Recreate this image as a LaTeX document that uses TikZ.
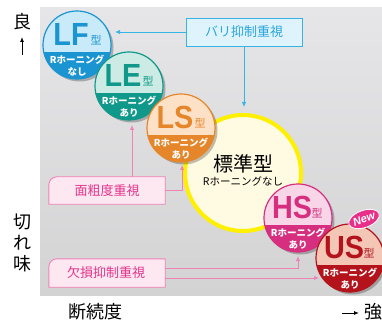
\documentclass[tikz,border=0pt]{standalone}
\usepackage{fontspec}
\setmainfont{Liberation Sans}
\newfontfamily\jp{Noto Sans CJK JP}
\newfontfamily\lat{Liberation Sans}
\usetikzlibrary{arrows.meta,shapes.geometric}
\definecolor{bgtop}{HTML}{E6E6E8}
\definecolor{bgbot}{HTML}{D3D3D4}
\definecolor{lfL}{HTML}{C9EAF8}\definecolor{lfD}{HTML}{1B95D1}
\definecolor{leL}{HTML}{CBEBE4}\definecolor{leD}{HTML}{10998A}
\definecolor{lsL}{HTML}{FDE1C6}\definecolor{lsD}{HTML}{E6862A}
\definecolor{hsL}{HTML}{F9D5E8}\definecolor{hsD}{HTML}{D62F80}
\definecolor{usL}{HTML}{F3C6B6}\definecolor{usD}{HTML}{B5131C}
\definecolor{stdF}{HTML}{FFFBE2}\definecolor{stdY}{HTML}{FFEF00}
\definecolor{bluL}{HTML}{36B4E6}\definecolor{bluF}{HTML}{DFF3FC}\definecolor{bluT}{HTML}{2BA6DD}
\definecolor{pnkL}{HTML}{EF83B6}\definecolor{pnkF}{HTML}{FDE7F1}\definecolor{pnkT}{HTML}{E2368C}
\definecolor{newP}{HTML}{E8308A}
\tikzset{
  typec/.style={circle, minimum size=68pt, inner sep=0pt, line width=1.2pt},
  letters/.style={font=\lat\bfseries\fontsize{32}{32}\selectfont, inner sep=0pt},
  kata/.style={font=\jp\fontsize{11}{11}\selectfont, inner sep=0pt},
  sub/.style={font=\jp\bfseries\fontsize{9.5}{9.5}\selectfont, text=white, inner sep=0pt},
  axislbl/.style={font=\jp\fontsize{18}{21}\selectfont, inner sep=0pt, align=center},
  boxlbl/.style={font=\jp\fontsize{13}{13}\selectfont, inner sep=0pt},
  bluline/.style={draw=bluL, line width=0.9pt},
  pnkline/.style={draw=pnkL, line width=0.9pt},
  tip/.style={-{Latex[length=5pt,width=4.5pt]}},
}
\newcommand\tcirc[8]{%
  \fill[black, opacity=0.25] (#2+2.5,#3+2.5) circle[radius=34pt];
  \node[typec, draw=#5, fill=#4, path picture={\fill[#5] ([yshift=-7pt]path picture bounding box.center) ++(-40pt,0pt) rectangle ++(80pt,-40pt);}] (#1) at (#2,#3) {};
  \node[letters, text=#5] (#1t) at (#2-6,#3-11) {\scalebox{0.9}[1]{#6}};
  \node[kata, text=#5] (#1k) at (#2+19,#3-5) {型};
  \node[sub] (#1a) at (#2,#3+15) {#7};
  \node[sub] (#1b) at (#2,#3+27) {#8};
}
\begin{document}
\begin{tikzpicture}[x=1pt,y=-1pt]
\useasboundingbox (0,0) rectangle (382,320);
\shade[top color=bgtop, bottom color=bgbot] (40,8) rectangle (382,295);
% axis labels
\node[axislbl] (good) at (22,22) {良};
\coordinate (upA) at (22,55);
\coordinate (upB) at (22,37);
\draw[-{Latex[length=5pt,width=4pt]}, line width=0.9pt] (upA) -- (upB);
\node[axislbl] (sharp) at (22,243) {切\\れ\\味};
\node[axislbl] (inter) at (95,312) {断続度};
\node[axislbl, anchor=west] (strong) at (364,312) {強};
\coordinate (rA) at (342,313);
\coordinate (rB) at (359,313);
\draw[-{Latex[length=5pt,width=4pt]}, line width=0.9pt] (rA) -- (rB);
% standard
\node[circle, minimum size=116pt, inner sep=0pt, draw=stdY, line width=4pt, fill=stdF] (std) at (243,173) {};
\node[font=\jp\fontsize{20}{20}\selectfont, inner sep=0pt] (stdt) at (243,164) {標準型};
\node[font=\jp\fontsize{10.5}{10.5}\selectfont, inner sep=0pt] (stds) at (243,181) {Rホーニングなし};
% type circles
\tcirc{LF}{77}{45}{lfL}{lfD}{LF}{Rホーニング}{なし}
\tcirc{LE}{129}{86}{leL}{leD}{LE}{Rホーニング}{あり}
\tcirc{LS}{181}{128}{lsL}{lsD}{LS}{Rホーニング}{あり}
\tcirc{HS}{298}{218}{hsL}{hsD}{HS}{Rホーニング}{あり}
\tcirc{US}{350}{258}{usL}{usD}{US}{Rホーニング}{あり}
% New badge
\node[ellipse, fill=newP, draw=white, line width=0.8pt, minimum width=32pt, minimum height=17pt, inner sep=0pt, rotate=20, text=white, font=\rmfamily\bfseries\itshape\fontsize{11}{11}\selectfont] (new) at (364,219) {New};
% bari box
\node[draw=bluL, fill=bluF, line width=0.9pt, minimum width=116pt, minimum height=28pt, inner sep=0pt, font=\jp\fontsize{13}{13}\selectfont, text=bluT] (bari) at (244,32) {バリ抑制重視};
\coordinate (lfEnd) at (115,32);
\draw[bluline, tip] (bari.west) -- (lfEnd);
\coordinate (stdEnd) at (244,107);
\draw[bluline, tip] (bari.south) -- (stdEnd);
% face box
\node[minimum width=116pt, minimum height=27pt, inner sep=0pt] (face) at (107,190.5) {};
\fill[pnkF] (face.south west) -- ([yshift=-8pt]face.north west) arc[start angle=180, end angle=90, radius=8pt] -- (face.north east) -- (face.south east) -- cycle;
\draw[pnkline] (face.south west) -- ([yshift=-8pt]face.north west) arc[start angle=180, end angle=90, radius=8pt] -- (face.north east) -- (face.south east) -- cycle;
\node[boxlbl, text=pnkT] (facet) at (107,191) {面粗度重視};
\coordinate (faceUp) at (132,177);
\coordinate (leEnd) at (132,125);
\draw[pnkline, tip] (faceUp) -- (leEnd);
\coordinate (lsEnd) at (182,165);
\draw[pnkline, tip] (face.east) -- (face.east -| lsEnd) -- (lsEnd);
% defect box
\node[minimum width=116pt, minimum height=28pt, inner sep=0pt] (defect) at (107,273) {};
\fill[pnkF] (defect.south west) -- ([yshift=-8pt]defect.north west) arc[start angle=180, end angle=90, radius=8pt] -- (defect.north east) -- (defect.south east) -- cycle;
\draw[pnkline] (defect.south west) -- ([yshift=-8pt]defect.north west) arc[start angle=180, end angle=90, radius=8pt] -- (defect.north east) -- (defect.south east) -- cycle;
\node[boxlbl, text=pnkT] (defectt) at (106,273) {欠損抑制重視};
\coordinate (hsEnd) at (298,256);
\coordinate (usEnd) at (319,278);
\draw[pnkline, tip] ([yshift=5pt]defect.east) -- ([yshift=5pt]defect.east -| hsEnd) -- (hsEnd);
\draw[pnkline, tip] ([yshift=-5pt]defect.east) -- (usEnd);
\end{tikzpicture}
\end{document}
